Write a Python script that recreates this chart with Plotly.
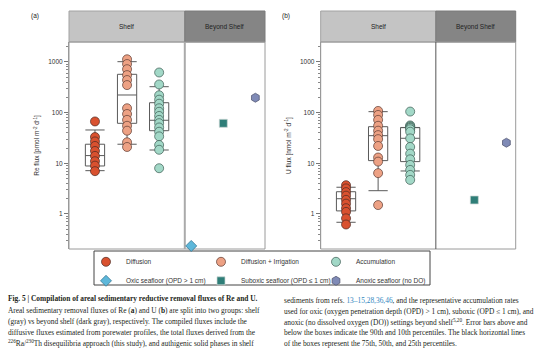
import math
import plotly.graph_objects as go

# ---------------- data ----------------
categories = ["Diffusion", "Diffusion + Irrigation", "Accumulation",
              "Oxic seafloor (OPD > 1 cm)", "Suboxic seafloor (OPD ≤ 1 cm)",
              "Anoxic seafloor (no DO)"]

# Panel (a): Re flux [pmol m-2 d-1]
re_diffusion = [67, 33, 27, 22, 17.5, 14, 11, 9, 7]
re_diff_irr = [1130, 910, 720, 550, 440, 350, 122, 94, 72, 55, 44, 26, 21]
re_accum = [620, 360, 220, 180, 150, 122, 104, 86, 72, 62, 51, 42, 34, 23, 18.5, 8]
re_oxic = [0.234]
re_suboxic = [61.6]
re_anoxic = [197]
# box stats: 10th, 25th, 50th, 75th, 90th percentiles
re_box_diffusion = [7.16, 8.86, 14.2, 23.8, 45.5]
re_box_diff_irr = [23.8, 61.6, 223, 571, 1013]
re_box_accum = [18.3, 44, 70.7, 157, 325]

# Panel (b): U flux [nmol m-2 d-1]
u_diffusion = [3.7, 3.2, 2.7, 2.3, 1.9, 1.6, 1.3, 1.1, 0.82, 0.62]
u_diff_irr = [108, 90, 72, 55, 44, 36, 30, 22, 13, 10.8, 6.4, 1.5]
u_accum = [105, 56, 54, 52, 50, 47, 42, 31, 21, 15.5, 12, 9.3, 7.4, 5.9, 4.7]
u_suboxic = [1.89]
u_anoxic = [25.5]
u_box_diffusion = [0.686, 1.15, 2.0, 2.75, 3.37]
u_box_diff_irr = [2.88, 11.3, 35.1, 52.8, 104.5]
u_box_accum = [7.06, 10.8, 31.2, 50.5, 51]

group_labels = ["Shelf", "Beyond Shelf"]
panel_labels = ["(a)", "(b)"]
y_titles = ["Re flux [pmol m<sup>-2</sup> d<sup>-1</sup>]",
            "U flux [nmol m<sup>-2</sup> d<sup>-1</sup>]"]
tick_values = [1, 10, 100, 1000]

# ---------------- style ----------------
W, H = 554, 358
ML, MR = 69, 38
PW = W - ML - MR
SANS = "Liberation Sans, Arial, sans-serif"
SERIF = "Liberation Serif, Times New Roman, serif"
colors = ["#d9512f", "#eda184", "#a2d8c7", "#5db7da", "#2f7e78", "#7f8ab6"]
symbols = ["circle", "circle", "circle", "diamond", "square", "hexagon"]
sizes = [9, 9, 9, 8.5, 8, 9]
outline = ["#4a2a22", "#5a3a30", "#3c5a52", "#2c6d8a", "#cfd8d6", "#4a4f6a"]


def px(x):
    return (x - ML) / PW


def py(y):
    return 1 - y / H


fig = go.Figure()

panels = [
    dict(xa="x", ya="y", boxes=[re_box_diffusion, re_box_diff_irr, re_box_accum],
         series=[re_diffusion, re_diff_irr, re_accum, re_oxic, re_suboxic, re_anoxic],
         idx=[0, 1, 2, 3, 4, 5], legend=True),
    dict(xa="x2", ya="y2", boxes=[u_box_diffusion, u_box_diff_irr, u_box_accum],
         series=[u_diffusion, u_diff_irr, u_accum, u_suboxic, u_anoxic],
         idx=[0, 1, 2, 4, 5], legend=False),
]

for p in panels:
    for i, st in enumerate(p["boxes"]):
        fig.add_trace(go.Box(
            x=[categories[i]], lowerfence=[st[0]], q1=[st[1]], median=[st[2]],
            q3=[st[3]], upperfence=[st[4]], width=0.6, whiskerwidth=1,
            fillcolor="rgba(255,255,255,0)", line=dict(color="#5a5a5a", width=1),
            boxpoints=False, showlegend=False, hoverinfo="skip",
            xaxis=p["xa"], yaxis=p["ya"]))

for p in panels:
    for vals, k in zip(p["series"], p["idx"]):
        fig.add_trace(go.Scatter(
            x=[categories[k]] * len(vals), y=vals, mode="markers",
            name=categories[k], showlegend=p["legend"],
            marker=dict(symbol=symbols[k], size=sizes[k], color=colors[k],
                        line=dict(color=outline[k], width=0.7)),
            cliponaxis=False, xaxis=p["xa"], yaxis=p["ya"]))

# ---------------- axes ----------------
ydom = [py(249), py(42)]
xdoms = [[px(69), px(265)], [px(320.7), px(515.7)]]
xranges = [[-0.81, 5.30], [-0.79, 5.29]]
yrange = [math.log10(0.2036), math.log10(2478)]
split = 2.8
strip_h = (249 - 42)
strip_top = 1 + 31 / strip_h

for n, (xd, xr) in enumerate(zip(xdoms, xranges)):
    sx = "" if n == 0 else "2"
    fig.update_layout({
        f"xaxis{sx}": dict(domain=xd, range=xr, type="category",
                          categoryorder="array", categoryarray=categories,
                          showticklabels=False, ticks="", showgrid=False,
                          zeroline=False, showline=False, anchor=f"y{sx}",
                          fixedrange=True),
        f"yaxis{sx}": dict(domain=ydom, type="log", range=yrange, anchor=f"x{sx}",
                          tickvals=tick_values, ticktext=[str(v) for v in tick_values],
                          ticks="outside", ticklen=4, tickwidth=0.8, tickcolor="#777",
                          tickfont=dict(family=SANS, size=6.5, color="#333"),
                          showline=True, linecolor="#999", linewidth=1,
                          showgrid=False, zeroline=False, automargin=False,
                          minor=dict(ticks="outside", ticklen=2, tickwidth=0.5,
                                     tickcolor="#888", dtick="D1", showgrid=False),
                          title=dict(text=y_titles[n], standoff=7,
                                     font=dict(family=SANS, size=6.5, color="#333"))),
    })
    xdom_ref = f"x{sx} domain"
    ydom_ref = f"y{sx} domain"
    frac = (split - xr[0]) / (xr[1] - xr[0])
    # strips
    fig.add_shape(type="rect", xref=xdom_ref, yref=ydom_ref, x0=0, x1=frac,
                  y0=1, y1=strip_top, fillcolor="#c4c4c4",
                  line=dict(color="#a2a2a2", width=1), layer="below")
    fig.add_shape(type="rect", xref=xdom_ref, yref=ydom_ref, x0=frac, x1=1,
                  y0=1, y1=strip_top, fillcolor="#858585",
                  line=dict(color="#7a7a7a", width=1), layer="below")
    # plot border
    fig.add_shape(type="rect", xref=xdom_ref, yref=ydom_ref, x0=0, x1=1, y0=0, y1=1,
                  line=dict(color="#9a9a9a", width=1), layer="below")
    # divider
    fig.add_shape(type="line", xref=xdom_ref, yref=ydom_ref, x0=frac, x1=frac, y0=0, y1=1,
                  line=dict(color="#aaaaaa" if n == 0 else "#555555",
                            width=2 if n == 0 else 1), layer="below")
    # strip labels
    for gx, gl in zip([frac / 2, (frac + 1) / 2], group_labels):
        fig.add_annotation(xref=xdom_ref, yref=ydom_ref, x=gx, y=(1 + strip_top) / 2,
                           xanchor="center", yanchor="middle",
                           text=gl, showarrow=False,
                           font=dict(family=SANS, size=6.5, color="#222"))
    # panel label
    fig.add_annotation(xref="paper", yref="paper", x=px(35 if n == 0 else 286), y=py(16),
                       xanchor="center", yanchor="middle",
                       text=panel_labels[n], showarrow=False,
                       font=dict(family=SANS, size=6.5, color="#222"))

# legend frame
fig.add_shape(type="rect", xref="paper", yref="paper", x0=px(94), x1=px(430),
              y0=py(285), y1=py(251), line=dict(color="#444", width=1),
              fillcolor="white", layer="below")

# ---------------- caption ----------------
caption_left = [
    "<b>Fig. 5 | Compilation of areal sedimentary reductive removal fluxes of Re and U.</b>",
    "Areal sedimentary removal fluxes of Re (<b>a</b>) and U (<b>b</b>) are split into two groups: shelf",
    "(gray) vs beyond shelf (dark gray), respectively. The compiled fluxes include the",
    "diffusive fluxes estimated from porewater profiles, the total fluxes derived from the",
    "<sup>226</sup>Ra/<sup>230</sup>Th disequilibria approach (this study), and authigenic solid phases in shelf",
]
caption_right = [
    "sediments from refs. <span style='color:#2f86c0'>13–15,28,36,46</span>, and the representative accumulation rates",
    "used for oxic (oxygen penetration depth (OPD) > 1 cm), suboxic (OPD ≤ 1 cm), and",
    "anoxic (no dissolved oxygen (DO)) settings beyond shelf<sup>5,20</sup>. Error bars above and",
    "below the boxes indicate the 90th and 10th percentiles. The black horizontal lines",
    "of the boxes represent the 75th, 50th, and 25th percentiles.",
]
left_y = [298.5, 310, 321, 332, 342.5]
right_y = [300, 311, 322, 332.5, 343]
for t, y in zip(caption_left, left_y):
    fig.add_annotation(xref="paper", yref="paper", x=px(6), y=py(y), xanchor="left",
                       yanchor="middle", text=t, showarrow=False,
                       font=dict(family=SERIF, size=7.4, color="#231f20"))
for t, y in zip(caption_right, right_y):
    fig.add_annotation(xref="paper", yref="paper", x=px(282), y=py(y), xanchor="left",
                       yanchor="middle", text=t, showarrow=False,
                       font=dict(family=SERIF, size=7.4, color="#231f20"))

fig.update_layout(
    width=W, height=H,
    margin=dict(l=ML, r=MR, t=0, b=0, pad=0, autoexpand=False),
    paper_bgcolor="white", plot_bgcolor="white",
    showlegend=True,
    legend=dict(orientation="h", x=px(86), y=py(247.3), xanchor="left", yanchor="top",
                xref="paper", yref="paper",
                borderwidth=0, bgcolor="rgba(0,0,0,0)",
                itemwidth=30, entrywidth=70, entrywidthmode="pixels",
                font=dict(family=SANS, size=6.5, color="#333"),
                itemclick=False, itemdoubleclick=False),
)

fig.write_html("out.html", config={"displayModeBar": False},
               post_script="document.body.style.margin='0';")
